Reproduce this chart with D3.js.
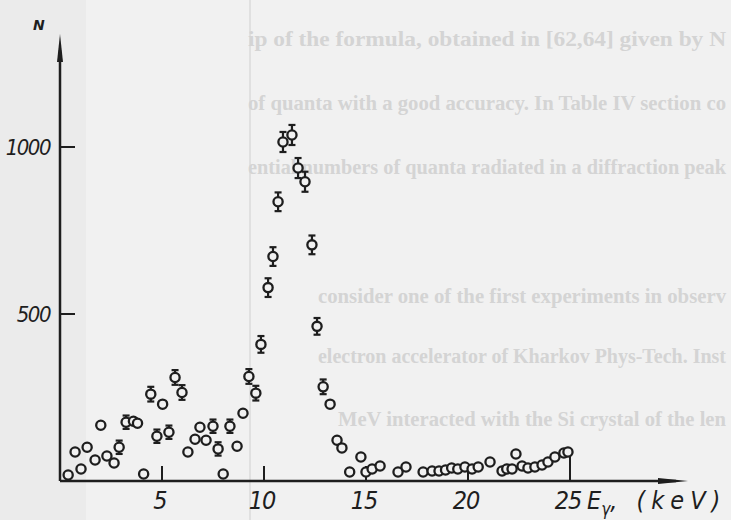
<!DOCTYPE html>
<html>
<head>
<meta charset="utf-8">
<script src="https://cdn.jsdelivr.net/npm/d3@7"></script>
<style>
html,body{margin:0;padding:0;background:#f1f1f1;}
svg{display:block;}
</style>
</head>
<body>
<svg id="chart" width="731" height="520"></svg>
<script>
// ---- data ----
const energy = [0.4,0.74,1.03,1.33,1.72,2.0,2.3,2.65,2.9,3.24,3.6,3.8,4.1,4.45,4.75,5.03,5.34,5.64,5.98,
  6.27,6.62,6.86,7.16,7.5,7.75,8.0,8.33,8.68,8.97,9.26,9.6,9.85,10.2,10.44,10.69,10.93,11.37,11.67,12.01,
  12.35,12.6,12.9,13.24,13.58,13.82,14.2,14.75,15.0,15.3,15.69,16.57,16.96,17.8,18.24,18.58,18.9,19.2,
  19.5,19.85,20.2,20.5,21.08,21.67,21.9,22.16,22.35,22.65,22.94,23.28,23.63,23.92,24.26,24.7,24.9];
const counts = [18,87,36,101,63,167,75,54,101,176,179,173,21,260,134,230,146,310,265,
  87,125,161,122,164,96,21,164,104,203,313,263,409,579,672,836,1015,1036,937,896,
  707,463,282,230,122,99,27,72,27,36,45,27,42,27,30,30,33,39,
  36,42,36,42,57,30,36,36,81,45,39,42,48,57,72,84,87];
const errors = [0,0,0,0,0,0,0,0,20,20,0,0,0,22,20,0,20,22,22,
  0,0,0,0,20,20,0,20,0,0,22,22,25,28,28,28,30,30,30,30,
  28,25,22,0,0,0,0,0,0,0,0,0,0,0,0,0,0,0,
  0,0,0,0,0,0,0,0,0,0,0,0,0,0,0,0,0];
const yTicks = [500, 1000];
const xTicks = [5, 10, 15, 20, 25];
const ghostLines = [
  "ip of the formula, obtained in [62,64] given by N",
  "of quanta with a good accuracy. In Table IV section co",
  "ential numbers of quanta radiated in a diffraction peak",
  "consider one of the first experiments in observ",
  "electron accelerator of Kharkov Phys-Tech. Inst",
  "MeV interacted with the Si crystal of the len"
];

const svg = d3.select("#chart");
const ink = "#1e1e1e";
const paper = "#f1f1f1";

// paper background and bleed-through text
svg.append("rect").attr("width",731).attr("height",520).attr("fill",paper);
svg.append("rect").attr("x",0).attr("y",0).attr("width",86).attr("height",520).attr("fill","#ebebeb");
svg.append("line").attr("x1",250).attr("x2",250).attr("y1",0).attr("y2",520)
  .attr("stroke","#e0e0e0").attr("stroke-width",2);
const ghostPos = [[248,46],[248,110],[248,174],[318,303],[318,363],[338,426]];
svg.append("g").selectAll("text").data(ghostLines).join("text")
  .attr("x",(d,i)=>ghostPos[i][0]).attr("y",(d,i)=>ghostPos[i][1])
  .attr("textLength",(d,i)=>726-ghostPos[i][0]).attr("lengthAdjust","spacingAndGlyphs")
  .attr("font-family","Liberation Serif, serif").attr("font-weight","bold")
  .attr("font-size",20).attr("fill","#d4d4d4").text(d=>d);

// scales
const x = d3.scaleLinear().domain([0,25]).range([60,570]);
const y = d3.scaleLinear().domain([0,1000]).range([481,147]);

// axes lines
svg.append("line").attr("x1",x(0)).attr("x2",676).attr("y1",y(0)).attr("y2",y(0))
  .attr("stroke",ink).attr("stroke-width",2.5);
svg.append("path").attr("d",`M658,${y(0)-3} L688,${y(0)} L658,${y(0)+3} Z`).attr("fill",ink);
svg.append("line").attr("x1",x(0)).attr("x2",x(0)).attr("y1",y(0)).attr("y2",50)
  .attr("stroke",ink).attr("stroke-width",2.5);
svg.append("path").attr("d",`M${x(0)-3},62 L${x(0)},34 L${x(0)+3},62 Z`).attr("fill",ink);

// y ticks
svg.append("g").selectAll("line").data(yTicks).join("line")
  .attr("x1",x(0)).attr("x2",x(0)+15).attr("y1",d=>y(d)).attr("y2",d=>y(d))
  .attr("stroke",ink).attr("stroke-width",2);
svg.append("g").selectAll("text").data(yTicks).join("text")
  .attr("x",x(0)-10).attr("y",d=>y(d)+8).attr("text-anchor","end")
  .attr("font-family","Liberation Sans Narrow, DejaVu Sans Condensed, sans-serif")
  .attr("font-style","italic").attr("font-size",22).attr("fill",ink)
  .attr("letter-spacing",-1.5).text(d=>d);

// x ticks
svg.append("g").selectAll("line").data(xTicks).join("line")
  .attr("x1",d=>x(d)).attr("x2",d=>x(d)).attr("y1",y(0))
  .attr("y2",d=>d===25 ? y(0)-28 : y(0)-15)
  .attr("stroke",ink).attr("stroke-width",2);
svg.append("g").selectAll("text").data(xTicks).join("text")
  .attr("x",d=>x(d)-2).attr("y",509).attr("text-anchor","middle")
  .attr("font-family","Liberation Sans Narrow, DejaVu Sans Condensed, sans-serif")
  .attr("font-style","italic").attr("font-size",25).attr("fill",ink)
  .attr("letter-spacing",-1).text(d=>d);

// axis titles
const xt = svg.append("text").attr("x",587).attr("y",509)
  .attr("font-family","Liberation Sans Narrow, DejaVu Sans Condensed, sans-serif")
  .attr("font-style","italic").attr("font-size",25).attr("fill",ink);
xt.append("tspan").text("E");
xt.append("tspan").attr("dy",6).attr("font-size",17).text("γ");
xt.append("tspan").attr("dy",-6).attr("letter-spacing",6).text(", (keV)");
svg.append("text").attr("x",33).attr("y",30)
  .attr("font-family","DejaVu Sans, sans-serif").attr("font-style","italic")
  .attr("font-weight","bold").attr("font-size",14).attr("fill",ink).text("N");

// data points
const pts = energy.map((e,i)=>({e, n:counts[i], err:errors[i]}));
const g = svg.append("g");
const withErr = pts.filter(d=>d.err>0);
g.selectAll("line.eb").data(withErr).join("line").attr("class","eb")
  .attr("x1",d=>x(d.e)).attr("x2",d=>x(d.e))
  .attr("y1",d=>y(d.n+d.err)).attr("y2",d=>y(d.n-d.err))
  .attr("stroke",ink).attr("stroke-width",2.2);
g.selectAll("line.capt").data(withErr).join("line").attr("class","capt")
  .attr("x1",d=>x(d.e)-3.5).attr("x2",d=>x(d.e)+3.5)
  .attr("y1",d=>y(d.n+d.err)).attr("y2",d=>y(d.n+d.err))
  .attr("stroke",ink).attr("stroke-width",2.2);
g.selectAll("line.capb").data(withErr).join("line").attr("class","capb")
  .attr("x1",d=>x(d.e)-3.5).attr("x2",d=>x(d.e)+3.5)
  .attr("y1",d=>y(d.n-d.err)).attr("y2",d=>y(d.n-d.err))
  .attr("stroke",ink).attr("stroke-width",2.2);
g.selectAll("circle").data(pts).join("circle")
  .attr("cx",d=>x(d.e)).attr("cy",d=>y(d.n)).attr("r",4.6)
  .attr("fill",paper).attr("stroke",ink).attr("stroke-width",2.3);
</script>
</body>
</html>
